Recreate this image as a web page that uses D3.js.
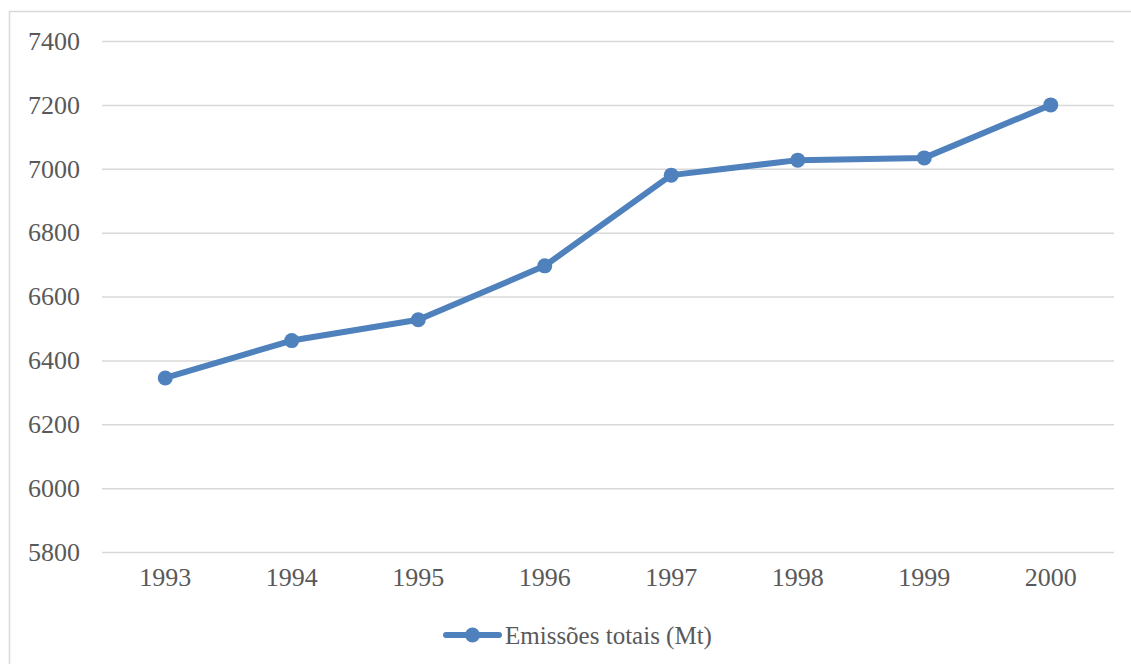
<!DOCTYPE html>
<html>
<head>
<meta charset="utf-8">
<script src="https://cdn.jsdelivr.net/npm/d3@7"></script>
<style>
  html, body { margin: 0; padding: 0; background: #fff; }
  svg { display: block; }
</style>
</head>
<body>
<svg id="chart" width="1131" height="664"></svg>
<script>
// Total emissions by year (Mt)
const years = ["1993", "1994", "1995", "1996", "1997", "1998", "1999", "2000"];
const emissions = [6345, 6462, 6527, 6696, 6980, 7027, 7034, 7200];
const yTicks = [5800, 6000, 6200, 6400, 6600, 6800, 7000, 7200, 7400];
const seriesName = "Emissões totais (Mt)";

const svg = d3.select("#chart");
const W = 1131, H = 664;
const font = "'Liberation Serif', 'DejaVu Serif', serif";
const blue = "#4f81bd";
const textColor = "#595959";
const gridColor = "#d9d9d9";

// Chart frame
svg.append("rect")
  .attr("x", 9.5).attr("y", 11.5)
  .attr("width", W).attr("height", H)
  .attr("fill", "#fff")
  .attr("stroke", gridColor).attr("stroke-width", 1.5);

const plot = { left: 102, right: 1114, top: 41, bottom: 552 };

const x = d3.scaleBand().domain(years).range([plot.left, plot.right]);
const y = d3.scaleLinear().domain([5800, 7400]).range([plot.bottom, plot.top]);

// Horizontal gridlines
const yAxis = d3.axisLeft(y)
  .tickValues(yTicks)
  .tickFormat(d3.format("d"))
  .tickSize(-(plot.right - plot.left))
  .tickPadding(22);
const gy = svg.append("g").attr("transform", `translate(${plot.left},0)`).call(yAxis);
gy.select(".domain").remove();
gy.selectAll(".tick line").attr("stroke", gridColor).attr("stroke-width", 1.5);
gy.selectAll(".tick text")
  .attr("fill", textColor).attr("font-family", font).attr("font-size", 26);

// Category labels
const xAxis = d3.axisBottom(x).tickSize(0).tickPadding(16);
const gx = svg.append("g").attr("transform", `translate(0,${plot.bottom})`).call(xAxis);
gx.select(".domain").remove();
gx.selectAll(".tick text")
  .attr("fill", textColor).attr("font-family", font).attr("font-size", 26);

// Series line and markers
const cx = (d, i) => x(years[i]) + x.bandwidth() / 2;
const line = d3.line().x((d, i) => cx(d, i)).y(d => y(d));

svg.append("path")
  .datum(emissions)
  .attr("d", line)
  .attr("fill", "none")
  .attr("stroke", blue)
  .attr("stroke-width", 6)
  .attr("stroke-linejoin", "round")
  .attr("stroke-linecap", "round");

svg.append("g").selectAll("circle")
  .data(emissions)
  .join("circle")
  .attr("cx", cx)
  .attr("cy", d => y(d))
  .attr("r", 7.5)
  .attr("fill", blue);

// Legend
const lg = svg.append("g").attr("transform", "translate(446,635)");
lg.append("line")
  .attr("x1", 0).attr("x2", 53).attr("y1", 0).attr("y2", 0)
  .attr("stroke", blue).attr("stroke-width", 6).attr("stroke-linecap", "round");
lg.append("circle").attr("cx", 26.5).attr("cy", 0).attr("r", 7.5).attr("fill", blue);
lg.append("text")
  .attr("x", 59).attr("y", 0).attr("dy", "0.35em")
  .attr("fill", textColor).attr("font-family", font).attr("font-size", 25)
  .text(seriesName);
</script>
</body>
</html>
